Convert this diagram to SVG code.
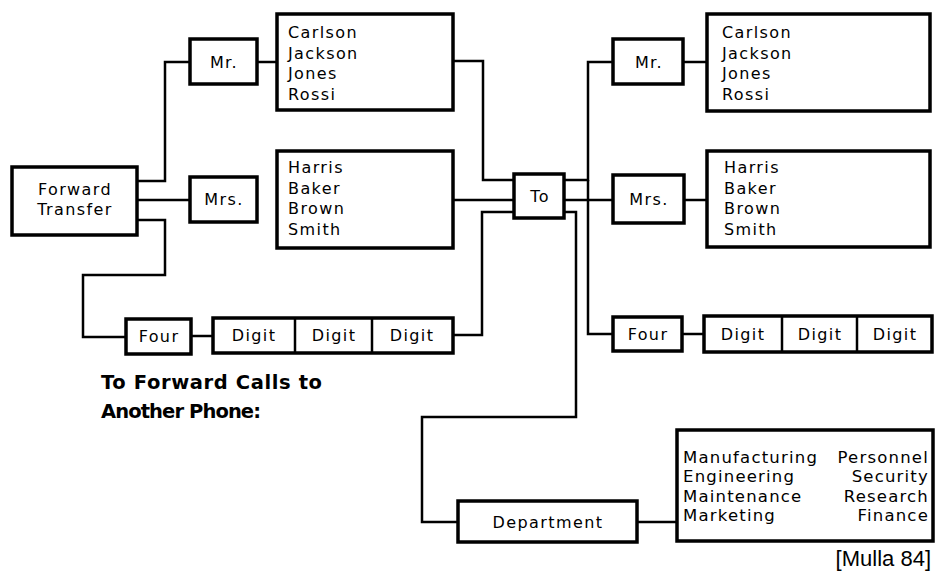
<svg xmlns="http://www.w3.org/2000/svg" width="937" height="571" viewBox="0 0 937 571">
<style>
.box{fill:#fff;stroke:#000;stroke-width:3.5}
.div{stroke:#000;stroke-width:2.5}
.con{fill:none;stroke:#000;stroke-width:2.5}
.t{font-family:"DejaVu Sans",sans-serif;font-size:16px;letter-spacing:1.4px;fill:#000}
.c{text-anchor:middle}
.l{font-family:"DejaVu Sans",sans-serif;font-size:16.5px;letter-spacing:1.2px;fill:#000}
.title{font-family:"DejaVu Sans",sans-serif;font-size:19.5px;font-weight:bold;fill:#000}
.cite{font-family:"Liberation Sans",Arial,sans-serif;font-size:22px;fill:#000;text-anchor:end}
</style>
<rect width="937" height="571" fill="#fff"/>
<g id="connectors">
<path class="con" d="M137,181 H165 V62 H190"/>
<path class="con" d="M137,200 H190"/>
<path class="con" d="M137,220 H165 V275 H83 V337 H126"/>
<path class="con" d="M257,62 H277"/>
<path class="con" d="M191,336 H213"/>
<path class="con" d="M453,61 H483 V180 H514"/>
<path class="con" d="M453,200 H514"/>
<path class="con" d="M453,335 H482 V212 H514"/>
<path class="con" d="M564,180 H588 V62 H613"/>
<path class="con" d="M564,200 H613"/>
<path class="con" d="M588,180 V334 H613"/>
<path class="con" d="M683,62 H707"/>
<path class="con" d="M684,200 H707"/>
<path class="con" d="M682,334 H704"/>
<path class="con" d="M564,212 H576 V417 H422 V522 H458"/>
<path class="con" d="M637,522 H677"/>
</g>
<g id="forward-transfer">
<rect class="box" x="12" y="167" width="125" height="68"/>
<text class="t c" x="75" y="195">Forward</text>
<text class="t c" x="75" y="215">Transfer</text>
</g>
<g id="mr-left">
<rect class="box" x="190" y="39" width="67" height="45"/>
<text class="t c" x="224" y="68">Mr.</text>
</g>
<g id="mrs-left">
<rect class="box" x="190" y="177" width="67" height="45"/>
<text class="t c" x="224" y="205">Mrs.</text>
</g>
<g id="mr-names-left">
<rect class="box" x="277" y="14" width="176" height="96"/>
<text class="t" x="288" y="38">Carlson</text>
<text class="t" x="288" y="59">Jackson</text>
<text class="t" x="288" y="79">Jones</text>
<text class="t" x="288" y="100">Rossi</text>
</g>
<g id="mrs-names-left">
<rect class="box" x="277" y="151" width="176" height="97"/>
<text class="t" x="288" y="173">Harris</text>
<text class="t" x="288" y="194">Baker</text>
<text class="t" x="288" y="214">Brown</text>
<text class="t" x="288" y="235">Smith</text>
</g>
<g id="four-left">
<rect class="box" x="126" y="319" width="65" height="35"/>
<text class="t c" x="159" y="342">Four</text>
</g>
<g id="digits-left">
<rect class="box" x="213" y="318" width="240" height="35"/>
<line class="div" x1="295" y1="318" x2="295" y2="353"/>
<line class="div" x1="372" y1="318" x2="372" y2="353"/>
<text class="t c" x="254" y="341">Digit</text>
<text class="t c" x="334" y="341">Digit</text>
<text class="t c" x="412" y="341">Digit</text>
</g>
<g id="to">
<rect class="box" x="514" y="174" width="50" height="44"/>
<text class="t c" x="540" y="202">To</text>
</g>
<g id="mr-right">
<rect class="box" x="613" y="39" width="70" height="45"/>
<text class="t c" x="649" y="68">Mr.</text>
</g>
<g id="mr-names-right">
<rect class="box" x="707" y="14" width="223" height="97"/>
<text class="t" x="722" y="38">Carlson</text>
<text class="t" x="722" y="59">Jackson</text>
<text class="t" x="722" y="79">Jones</text>
<text class="t" x="722" y="100">Rossi</text>
</g>
<g id="mrs-right">
<rect class="box" x="613" y="175" width="71" height="48"/>
<text class="t c" x="649" y="205">Mrs.</text>
</g>
<g id="mrs-names-right">
<rect class="box" x="707" y="151" width="223" height="96"/>
<text class="t" x="724" y="173">Harris</text>
<text class="t" x="724" y="194">Baker</text>
<text class="t" x="724" y="214">Brown</text>
<text class="t" x="724" y="235">Smith</text>
</g>
<g id="four-right">
<rect class="box" x="613" y="317" width="69" height="34"/>
<text class="t c" x="648" y="340">Four</text>
</g>
<g id="digits-right">
<rect class="box" x="704" y="316" width="228" height="36"/>
<line class="div" x1="782" y1="316" x2="782" y2="352"/>
<line class="div" x1="857" y1="316" x2="857" y2="352"/>
<text class="t c" x="743" y="340">Digit</text>
<text class="t c" x="820" y="340">Digit</text>
<text class="t c" x="895" y="340">Digit</text>
</g>
<g id="department">
<rect class="box" x="458" y="501" width="179" height="41"/>
<text class="t c" x="548" y="528">Department</text>
</g>
<g id="departments-list">
<rect class="box" x="677" y="430" width="256" height="111"/>
<text class="l" x="683" y="463">Manufacturing</text>
<text class="l" x="683" y="482">Engineering</text>
<text class="l" x="683" y="502">Maintenance</text>
<text class="l" x="683" y="521">Marketing</text>
<text class="l" x="929" y="463" text-anchor="end">Personnel</text>
<text class="l" x="929" y="482" text-anchor="end">Security</text>
<text class="l" x="929" y="502" text-anchor="end">Research</text>
<text class="l" x="929" y="521" text-anchor="end">Finance</text>
</g>
<g id="title">
<text class="title" x="101" y="389" textLength="221" lengthAdjust="spacing">To Forward Calls to</text>
<text class="title" x="101" y="418" textLength="160" lengthAdjust="spacing">Another Phone:</text>
</g>
<text class="cite" x="931" y="566">[Mulla 84]</text>
</svg>
